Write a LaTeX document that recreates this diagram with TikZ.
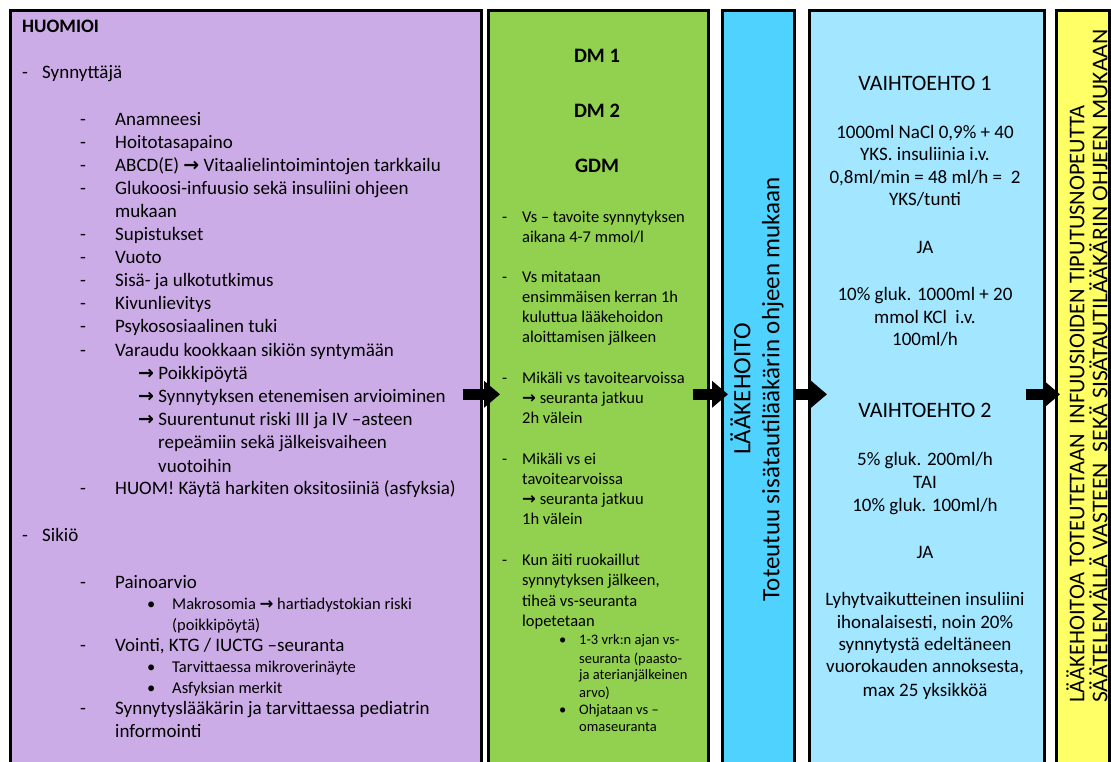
\documentclass[tikz,border=0pt]{standalone}
\usepackage{fontspec}
\setmainfont{Carlito}
\newfontfamily\symfont{DejaVu Sans}
\usepackage{tikz}
\usetikzlibrary{arrows.meta, positioning, calc}

\definecolor{lilac}{HTML}{CCACE6}
\definecolor{leaf}{HTML}{92D050}
\definecolor{sky}{HTML}{50D2FF}
\definecolor{pale}{HTML}{A2E6FF}
\definecolor{lemon}{HTML}{FFFF66}

\newcommand\ldash[1][35pt]{\makebox[#1][l]{-}}
\newcommand\bul[1][25pt]{\makebox[#1][l]{\textbullet}}
\newcommand\arr{{\symfont\bfseries →}}

\begin{document}
\begin{tikzpicture}[
    x=1pt, y=-1pt,
    box/.style={draw=black, line width=2.6pt, minimum height=768pt,
                inner sep=0pt, anchor=north west},
    link/.style={line width=11pt, -{Triangle[length=16pt, width=26pt]}},
    body/.style={anchor=mid west, inner sep=0pt, yshift=-3.5pt,
                 font=\fontsize{19}{23}\selectfont},
    small/.style={body, font=\fontsize{16.5}{20}\selectfont},
    green/.style={body, font=\fontsize{16.5}{20}\selectfont},
    tiny/.style={body, font=\fontsize{14.5}{17}\selectfont},
    mid/.style={anchor=mid, inner sep=0pt, yshift=-3.5pt,
                font=\fontsize{19}{23}\selectfont},
    head/.style={mid, font=\fontsize{22}{26}\selectfont},
    rot/.style={rotate=90, inner sep=0pt}
]
\useasboundingbox (0,0) rectangle (1111,762);
\clip (0,0) rectangle (1111,762);

% columns
\node[box, fill=lilac, minimum width=471pt] (huom) at (9,9) {};
\node[box, fill=leaf, minimum width=220pt] (dm) at (487,9) {};
\node[box, fill=sky, minimum width=72pt] (laake) at (721,9) {};
\node[box, fill=pale, minimum width=235pt] (vaiht) at (808,9) {};
\node[box, fill=lemon, minimum width=53pt] (toteu) at (1055,9) {};

% HUOMIOI
\node[body, font=\fontsize{19}{23}\selectfont\bfseries] (huom-t) at (22,27) {HUOMIOI};
\node[body] (synn) at (22,73) {\ldash[20pt]Synnyttäjä};
\node[body] (siki) at (22,536) {\ldash[20pt]Sikiö};
\foreach \x/\y/\t [count=\i] in {
    80/120/\ldash Anamneesi, 80/143/\ldash Hoitotasapaino,
    80/166/{\ldash ABCD(E) \arr{} Vitaalielintoimintojen tarkkailu},
    80/189/\ldash Glukoosi-infuusio sekä insuliini ohjeen, 115/212/mukaan,
    80/235/\ldash Supistukset, 80/258/\ldash Vuoto,
    80/281/\ldash Sisä- ja ulkotutkimus, 80/304/\ldash Kivunlievitys,
    80/327/\ldash Psykososiaalinen tuki,
    80/351/\ldash Varaudu kookkaan sikiön syntymään,
    138/374/\arr{} Poikkipöytä, 138/397/\arr{} Synnytyksen etenemisen arvioiminen,
    138/420/\arr{} Suurentunut riski III ja IV –asteen,
    158/443/repeämiin sekä jälkeisvaiheen, 158/467/vuotoihin,
    80/489/\ldash HUOM! Käytä harkiten oksitosiiniä (asfyksia),
    80/583/\ldash Painoarvio,
    80/646/{\ldash Vointi, KTG / IUCTG –seuranta},
    80/709/\ldash Synnytyslääkärin ja tarvittaessa pediatrin,
    115/732/informointi}
    \node[body] (h\i) at (\x,\y) {\t};
\foreach \x/\y/\t [count=\i] in {
    147/604/\bul Makrosomia \arr{} hartiadystokian riski, 172/625/(poikkipöytä),
    147/667/\bul Tarvittaessa mikroverinäyte, 147/688/\bul Asfyksian merkit}
    \node[small] (hs\i) at (\x,\y) {\t};

% DM
\foreach \y/\t in {57/DM 1, 112/DM 2, 167/GDM}
    \node[mid, font=\fontsize{20.5}{24}\selectfont\bfseries] (dm-\y) at (597,\y) {\t};
\foreach \x/\y/\t [count=\i] in {
    502/217/\ldash[20pt]Vs – tavoite synnytyksen, 522/237/{aikana 4-7 mmol/l},
    502/277/\ldash[20pt]Vs mitataan, 522/297/ensimmäisen kerran 1h,
    522/317/kuluttua lääkehoidon, 522/337/aloittamisen jälkeen,
    502/378/\ldash[20pt]Mikäli vs tavoitearvoissa, 522/398/\arr{} seuranta jatkuu,
    522/418/2h välein,
    502/459/\ldash[20pt]Mikäli vs ei, 522/479/tavoitearvoissa,
    522/499/\arr{} seuranta jatkuu, 522/519/1h välein,
    502/560/\ldash[20pt]Kun äiti ruokaillut, 522/580/{synnytyksen jälkeen,},
    522/601/tiheä vs-seuranta, 522/621/lopetetaan}
    \node[green] (g\i) at (\x,\y) {\t};
\foreach \x/\y/\t [count=\i] in {
    559/639/\bul[20pt]1-3 vrk:n ajan vs-, 579/658/seuranta (paasto-,
    579/674/ja aterianjälkeinen, 579/692/arvo),
    559/709/\bul[20pt]Ohjataan vs –, 579/726/omaseuranta}
    \node[tiny] (gs\i) at (\x,\y) {\t};

% LÄÄKEHOITO
\node[rot, align=center, font=\fontsize{25}{29}\selectfont] (laake-t) at (757,389)
    {LÄÄKEHOITO\\Toteutuu sisätautilääkärin ohjeen mukaan};

% VAIHTOEHDOT
\node[head] (v1) at (925,85) {VAIHTOEHTO 1};
\node[head] (v2) at (925,412) {VAIHTOEHTO 2};
\foreach \y/\t [count=\i] in {
    133/1000ml NaCl 0{,}9\% + 40, 155/YKS. insuliinia i.v.,
    178/{0,8ml/min = 48 ml/h = \ 2}, 200/{YKS/tunti}, 248/JA,
    295/10\% gluk. 1000ml + 20, 318/mmol KCl\ \ i.v., 340/{100ml/h},
    460/{5\% gluk. 200ml/h}, 483/TAI, 506/{10\% gluk. 100ml/h}, 553/JA,
    600/Lyhytvaikutteinen insuliini, 623/{ihonalaisesti, noin 20\%},
    645/synnytystä edeltäneen, 667/{vuorokauden annoksesta,},
    691/max 25 yksikköä}
    \node[mid] (v-\i) at (925,\y) {\t};

% TOTEUTUS
\node[rot, anchor=west, align=left, font=\fontsize{22.5}{23}\selectfont] (toteu-t) at (1087,703)
    {LÄÄKEHOITOA TOTEUTETAAN\ \ INFUUSIOIDEN TIPUTUSNOPEUTTA\\
     \scalebox{1.05}[1]{SÄÄTELEMÄLLÄ VASTEEN\ \ SEKÄ SISÄTAUTILÄÄKÄRIN OHJEEN MUKAAN}};

% arrows
\draw[link] ($(huom.east)+(-20,0)$) -- ($(dm.west)+(13,0)$);
\draw[link] ($(dm.east)+(-17,0)$) -- ($(laake.west)+(7,0)$);
\draw[link] ($(laake.east)+(-2,0)$) -- ($(vaiht.west)+(19,0)$);
\draw[link] ($(vaiht.east)+(-20,0)$) -- ($(toteu.west)+(5,0)$);
\end{tikzpicture}
\end{document}
